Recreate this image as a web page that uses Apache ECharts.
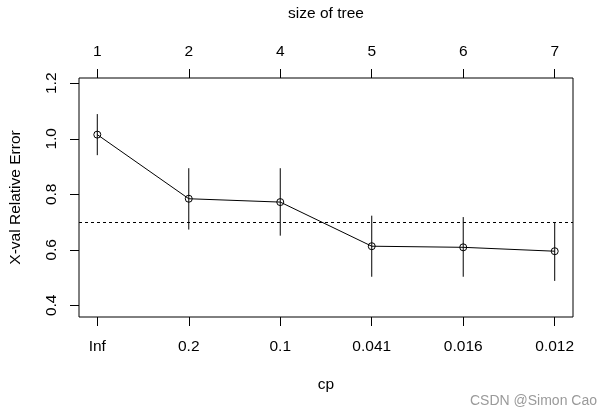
<!DOCTYPE html>
<html lang="en">
  <head>
    <meta charset="UTF-8" />
    <title>plotcp</title>
    <script src="https://cdn.jsdelivr.net/npm/echarts@6/dist/echarts.min.js"></script>
    <style>
      body {
        margin: 0;
        background: #fff;
      }
      #main {
        width: 614px;
        height: 415px;
      }
    </style>
  </head>
  <body>
    <div id="main"></div>
    <script>
      // cp values (bottom axis) and tree sizes (top axis)
      let cpLabels = ["Inf", "0.2", "0.1", "0.041", "0.016", "0.012"];
      let treeSize = ["1", "2", "4", "5", "6", "7"];
      // cross-validated relative error and its +/- 1 SE range
      let xerror = [1.015, 0.784, 0.772, 0.613, 0.609, 0.595];
      let xerrLow = [0.941, 0.673, 0.651, 0.503, 0.503, 0.488];
      let xerrHigh = [1.089, 0.894, 0.894, 0.723, 0.718, 0.700];
      let yTicks = [0.4, 0.6, 0.8, 1.0, 1.2];
      let threshold = 0.70;

      let pos = cpLabels.map((c, i) => i + 1);
      let font = "Liberation Sans, Arial, sans-serif";
      let fsize = 15.5;

      let myChart = echarts.init(document.getElementById("main"));

      function xAxisCfg(position, labels, name, gap, margin) {
        return {
          type: "value",
          position: position,
          min: 0.8,
          max: 6.2,
          name: name,
          nameLocation: "middle",
          nameGap: gap,
          nameTextStyle: { color: "#000", fontSize: fsize, fontFamily: font },
          axisLine: { show: false },
          splitLine: { show: false },
          axisTick: {
            show: true,
            length: 9,
            customValues: pos,
            lineStyle: { color: "#000", width: 1 },
          },
          axisLabel: {
            customValues: pos,
            margin: margin,
            color: "#000",
            fontSize: fsize,
            fontFamily: font,
            formatter: (v) => labels[Math.round(v) - 1],
          },
        };
      }

      let option = {
        animation: false,
        backgroundColor: "#fff",
        grid: {
          left: 78,
          right: 41,
          top: 78,
          bottom: 98,
          show: true,
          borderColor: "#000",
          borderWidth: 1,
          backgroundColor: "transparent",
        },
        xAxis: [
          xAxisCfg("bottom", cpLabels, "cp", 60, 22),
          xAxisCfg("top", treeSize, "size of tree", 56, 18),
        ],
        yAxis: {
          type: "value",
          min: 0.358,
          max: 1.219,
          name: "X-val Relative Error",
          nameLocation: "middle",
          nameGap: 55,
          nameTextStyle: { color: "#000", fontSize: fsize, fontFamily: font },
          axisLine: { show: false },
          splitLine: { show: false },
          axisTick: {
            show: true,
            length: 9,
            customValues: yTicks,
            lineStyle: { color: "#000", width: 1 },
          },
          axisLabel: {
            customValues: yTicks,
            rotate: 90,
            margin: 19,
            color: "#000",
            fontSize: fsize,
            fontFamily: font,
            formatter: (v) => v.toFixed(1),
          },
        },
        graphic: [
          {
            type: "text",
            right: 17,
            bottom: 7,
            style: {
              text: "CSDN @Simon Cao",
              fill: "#9a9a9a",
              fontSize: 14,
              fontFamily: font,
            },
          },
        ],
        series: [
          {
            type: "custom",
            xAxisIndex: 0,
            data: pos.map((x, i) => [x, xerrLow[i], xerrHigh[i]]),
            renderItem: function (params, api) {
              let p1 = api.coord([api.value(0), api.value(1)]);
              let p2 = api.coord([api.value(0), api.value(2)]);
              return {
                type: "line",
                shape: { x1: p1[0], y1: p1[1], x2: p2[0], y2: p2[1] },
                style: { stroke: "#000", lineWidth: 1 },
              };
            },
            z: 4,
          },
          {
            type: "line",
            xAxisIndex: 0,
            data: pos.map((x, i) => [x, xerror[i]]),
            symbol: "circle",
            symbolSize: 7,
            itemStyle: { color: "transparent", borderColor: "#000", borderWidth: 1 },
            lineStyle: { color: "#000", width: 1 },
            z: 3,
            markLine: {
              silent: true,
              symbol: "none",
              label: { show: false },
              lineStyle: { color: "#000", width: 1, type: [3, 3] },
              data: [{ yAxis: threshold }],
            },
          },
        ],
      };
      myChart.setOption(option);
    </script>
  </body>
</html>
